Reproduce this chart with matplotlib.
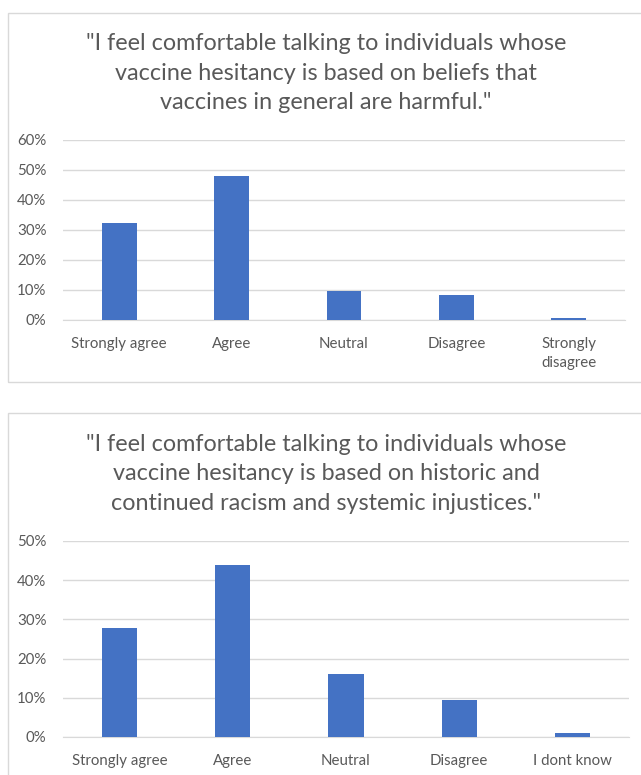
import matplotlib.pyplot as plt
from matplotlib.patches import Rectangle
from matplotlib.ticker import FuncFormatter

plt.rcParams['font.family'] = ['Lato', 'DejaVu Sans']

# data
cats_top = ['Strongly agree', 'Agree', 'Neutral', 'Disagree', 'Strongly\ndisagree']
vals_top = [32.3, 48.0, 9.7, 8.3, 0.5]
title_top = '"I feel comfortable talking to individuals whose\nvaccine hesitancy is based on beliefs that\nvaccines in general are harmful."'

cats_bot = ['Strongly agree', 'Agree', 'Neutral', 'Disagree', 'I dont know']
vals_bot = [27.8, 43.9, 16.1, 9.4, 1.1]
title_bot = '"I feel comfortable talking to individuals whose\nvaccine hesitancy is based on historic and\ncontinued racism and systemic injustices."'

W, H = 641, 775
bar_color = '#4472C4'
text_color = '#595959'
grid_color = '#D9D9D9'

fig = plt.figure(figsize=(W / 100, H / 100), dpi=100)


def fx(px):
    return px / W


def fy(px):
    return 1 - px / H


# panel borders
fig.patches.append(Rectangle((fx(8), fy(382)), fx(700), (382 - 13) / H,
                             transform=fig.transFigure, fill=False,
                             edgecolor=grid_color, lw=1))
fig.patches.append(Rectangle((fx(8), fy(800)), fx(700), (800 - 413) / H,
                             transform=fig.transFigure, fill=False,
                             edgecolor=grid_color, lw=1))


def draw(ax, cats, vals, ymax):
    ax.bar(range(len(cats)), vals, width=0.31, color=bar_color, zorder=3)
    ax.set_xlim(-0.5, len(cats) - 0.5)
    ax.set_ylim(0, ymax)
    ax.set_yticks(range(0, ymax + 1, 10))
    ax.yaxis.set_major_formatter(FuncFormatter(lambda v, p: f'{v:.0f}%'))
    ax.set_xticks(range(len(cats)))
    ax.set_xticklabels(cats, linespacing=1.45)
    ax.grid(axis='y', color=grid_color, lw=1, zorder=0)
    for s in ['top', 'right', 'left']:
        ax.spines[s].set_visible(False)
    ax.spines['bottom'].set_color(grid_color)
    ax.tick_params(length=0, colors=text_color, labelsize=10.8)
    ax.tick_params(axis='x', pad=12)
    ax.tick_params(axis='y', pad=12)


ax1 = fig.add_axes([fx(63), fy(320), fx(562), 180 / H])
draw(ax1, cats_top, vals_top, 60)
fig.text(fx(326), fy(73), title_top, ha='center', va='center',
         fontsize=16.8, color=text_color, linespacing=1.5)

ax2 = fig.add_axes([fx(63), fy(737), fx(566), 196 / H])
draw(ax2, cats_bot, vals_bot, 50)
fig.text(fx(326), fy(474), title_bot, ha='center', va='center',
         fontsize=16.8, color=text_color, linespacing=1.5)

fig.savefig('out.png', dpi=100)
